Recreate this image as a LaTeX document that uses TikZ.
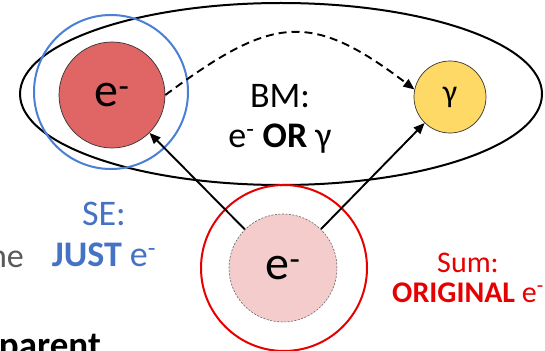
\documentclass[tikz,border=0pt]{standalone}
\usepackage{fontspec}
\setmainfont{Carlito}
\usetikzlibrary{arrows.meta}
\definecolor{redfill}{HTML}{E06666}
\definecolor{pinkfill}{HTML}{F4CCCC}
\definecolor{yellowfill}{HTML}{FFD966}
\definecolor{seblue}{HTML}{4472C4}
\definecolor{ringblue}{HTML}{4A7FD6}
\definecolor{sumred}{HTML}{E60000}
\definecolor{textgray}{HTML}{595959}
\newcommand\sz[1]{\fontsize{#1}{#1}\selectfont}
\newcommand\elec{e\textsuperscript{-}}
\tikzset{
  particle/.style={circle, inner sep=0pt, line width=0.7pt},
  ring/.style={circle, inner sep=0pt, line width=2pt},
  arr/.style={line width=1.9pt, -{Triangle[length=11pt,width=9pt]}},
  lbl/.style={inner sep=0pt, anchor=base},
}
\begin{document}
\begin{tikzpicture}[x=1pt,y=-1pt]
\useasboundingbox (0,0) rectangle (545,350);
\clip (0,0) rectangle (545,350);
\fill[white] (0,0) rectangle (545,350);

% BM region
\draw[line width=2pt] (281,94) ellipse [x radius=261pt, y radius=91pt];

% self-energy and sum rings
\node[ring, draw=ringblue, minimum size=154pt] (se) at (111,92) {};
\node[ring, draw=sumred, minimum size=166pt] (sum) at (284,268) {};

% particles
\node[particle, draw=black!80, fill=redfill, minimum size=106pt, font=\sz{48}] (eb) at (112,95) {\elec};
\node[particle, draw=black!80, fill=yellowfill, minimum size=72pt, font=\sz{32}] (gam) at (450,97) {γ};
\node[particle, draw=black!60, fill=pinkfill, dashed, dash pattern=on 2pt off 1.5pt, line width=0.6pt, minimum size=108pt, font=\sz{48}] (ea) at (283,268) {\elec};

% connectors
\draw[arr] (ea) -- (eb);
\draw[arr] (ea) -- (gam);
\draw[arr, dash pattern=on 8pt off 5pt] (eb.east) .. controls (272,16) and (310,10) .. (gam.168);

% labels
\node[lbl, font=\sz{36}] (bm1) at (280,107) {BM:};
\node[lbl, font=\sz{36}] (bm2) at (280,147) {\elec{} \textbf{OR} γ};
\node[lbl, font=\sz{36}, text=seblue] (se1) at (104,225) {SE:};
\node[lbl, font=\sz{36}, text=seblue] (se2) at (104,266) {\textbf{JUST} \elec};
\node[lbl, font=\sz{30}, text=sumred] (sum1) at (468,272) {Sum:};
\node[lbl, font=\sz{30}, text=sumred] (sum2) at (468,302) {\textbf{ORIGINAL} \elec};
\node[lbl, anchor=base east, font=\sz{34}, text=textgray] (ne) at (24,267) {ne};
\node[lbl, anchor=base east, font=\sz{37}\bfseries] (par) at (101,357) {parent};
\end{tikzpicture}
\end{document}
